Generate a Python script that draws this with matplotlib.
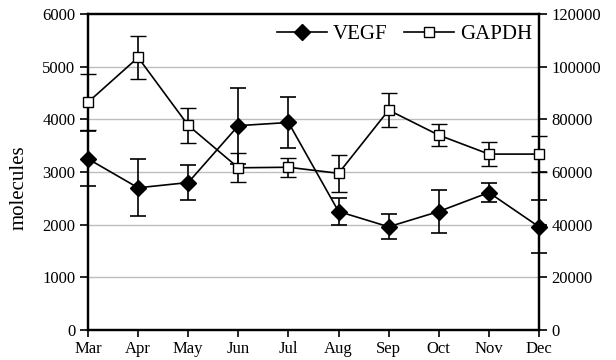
import matplotlib
matplotlib.use("Agg")
import matplotlib.pyplot as plt
from matplotlib.lines import Line2D
import numpy as np

plt.rcParams['font.family'] = ['Liberation Serif', 'DejaVu Serif']

months = ["Mar", "Apr", "May", "Jun", "Jul", "Aug", "Sep", "Oct", "Nov", "Dec"]
vegf = [3250, 2700, 2800, 3880, 3940, 2250, 1960, 2250, 2610, 1960]
vegf_err = [525, 540, 340, 720, 475, 250, 240, 400, 180, 500]
gapdh = [86500, 103500, 77700, 61600, 61800, 59500, 83500, 74000, 66800, 66800]
gapdh_err = [10700, 8100, 6600, 5500, 3600, 7000, 6500, 4300, 4700, 6800]
left_ticks = [0, 1000, 2000, 3000, 4000, 5000, 6000]
right_ticks = [0, 20000, 40000, 60000, 80000, 100000, 120000]

fig = plt.figure(figsize=(6.16, 3.6), dpi=100)
ax = fig.add_axes([88/616, 30/360, (539-88)/616, (330-14)/360])
ax2 = ax.twinx()

x = np.arange(len(months))

for yv in left_ticks[1:-1]:
    ax.axhline(yv, color='#bdbdbd', lw=1.0, zorder=0)

ax.errorbar(x, vegf, yerr=vegf_err, color='black', lw=1.2, marker='D',
            markersize=8.5, markerfacecolor='black', markeredgecolor='black',
            capsize=5.5, capthick=1.2, elinewidth=1.2, clip_on=False, zorder=3)
ax2.errorbar(x, gapdh, yerr=gapdh_err, color='black', lw=1.2, marker='s',
             markersize=7.5, markerfacecolor='white', markeredgecolor='black',
             markeredgewidth=1.0, capsize=5.5, capthick=1.2, elinewidth=1.2,
             clip_on=False, zorder=3)

ax.set_xlim(0, len(months) - 1)
ax.set_ylim(0, 6000)
ax2.set_ylim(0, 120000)
ax.set_xticks(x)
ax.set_xticklabels(months)
ax.set_yticks(left_ticks)
ax2.set_yticks(right_ticks)
ax.set_ylabel('molecules', fontsize=15)
ax.yaxis.set_label_coords(-0.132, 0.45)

for a in (ax, ax2):
    for s in a.spines.values():
        s.set_linewidth(1.6)
    a.tick_params(axis='both', direction='out', length=6, width=1.2, labelsize=12, pad=3)
ax.tick_params(axis='x', length=5, pad=3)

h1 = Line2D([], [], color='black', lw=1.2, marker='D', markersize=8.5, markerfacecolor='black')
h2 = Line2D([], [], color='black', lw=1.2, marker='s', markersize=7.5, markerfacecolor='white')
ax2.legend([h1, h2], ['VEGF', 'GAPDH'], loc='upper right', bbox_to_anchor=(1.009, 1.0),
           frameon=False, fontsize=15,
           ncol=2, handlelength=2.4, handletextpad=0.3, columnspacing=0.8,
           borderaxespad=0.3, borderpad=0.2)

fig.savefig('out.png', dpi=100)
